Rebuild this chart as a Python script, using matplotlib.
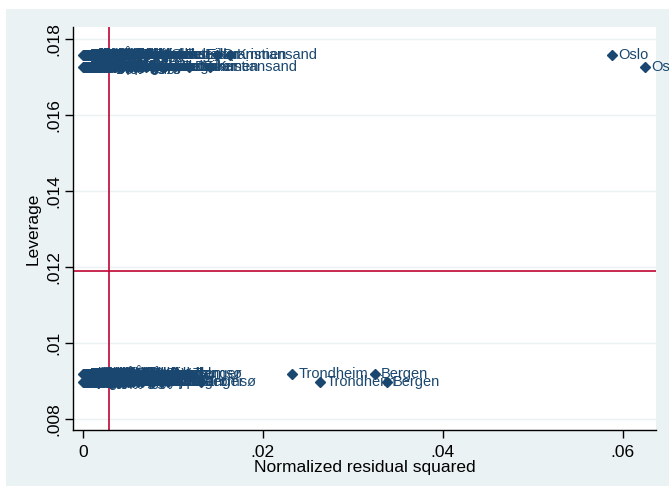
import matplotlib.pyplot as plt
from matplotlib.patches import Rectangle

plt.rcParams['font.family'] = ['Liberation Sans', 'DejaVu Sans']

# Leverage of the four groups (east/west, first/second period)
lev_east_a = 0.017579
lev_east_b = 0.017255
lev_west_a = 0.009184
lev_west_b = 0.008961

# Reference lines: mean leverage and 1/n
mean_lev = 0.01189
mean_r2 = 0.00296

east_cities = ['Oslo', 'Kristiansand', 'Drammen', 'Fredrikstad', 'Sarpsborg', 'Skien',
               'Porsgrunn', 'Larvik', 'Sandefjord', 'Tønsberg', 'Moss', 'Halden', 'Hamar',
               'Lillehammer', 'Gjøvik', 'Kongsberg', 'Arendal', 'Grimstad', 'Mandal', 'Bærum',
               'Asker', 'Lørenskog', 'Ski', 'Ringsaker', 'Elverum', 'Horten', 'Notodden',
               'Kongsvinger', 'Ullensaker', 'Nittedal', 'Lier', 'Eidsvoll', 'Holmestrand',
               'Jevnaker', 'Flekkefjord', 'Farsund', 'Lillesand', 'Risør', 'Kragerø', 'Hønefoss',
               'Nannestad', 'Frogn', 'Vestby', 'Ås', 'Nesodden', 'Oppegård', 'Rælingen',
               'Skedsmo', 'Fet', 'Sørum', 'Gran', 'Østre Toten', 'Vestre Toten', 'Stange',
               'Løten', 'Nedre Eiker', 'Øvre Eiker', 'Modum', 'Røyken', 'Hurum']

# normalized residual squared
east_r2_a = [0.0588, 0.0164, 0.0149, 0.0072, 0.0061, 0.0055, 0.0048, 0.0043, 0.0039, 0.0035,
             0.0032, 0.0029, 0.0026, 0.0024, 0.0021, 0.0019, 0.0017, 0.0015, 0.0014, 0.0012,
             0.0011, 0.0009, 0.0008, 0.0007, 0.0006, 0.0005, 0.0004, 0.0004, 0.0003, 0.0002,
             0.0002, 0.0001, 0.0001, 0.0000, 0.0003, 0.0013, 0.0027, 0.0009, 0.0018, 0.0006,
             0.0052, 0.0046, 0.0041, 0.0037, 0.0034, 0.0031, 0.0028, 0.0025, 0.0023, 0.0020,
             0.0018, 0.0016, 0.0057, 0.0064, 0.0069, 0.0080, 0.0091, 0.0045, 0.0038, 0.0030]
east_r2_b = [0.0625, 0.0142, 0.0118, 0.0066, 0.0058, 0.0050, 0.0044, 0.0040, 0.0036, 0.0033,
             0.0030, 0.0027, 0.0025, 0.0022, 0.0020, 0.0018, 0.0016, 0.0014, 0.0013, 0.0011,
             0.0010, 0.0009, 0.0008, 0.0007, 0.0006, 0.0005, 0.0004, 0.0003, 0.0003, 0.0002,
             0.0002, 0.0001, 0.0001, 0.0000, 0.0004, 0.0012, 0.0024, 0.0008, 0.0016, 0.0005,
             0.0049, 0.0044, 0.0040, 0.0036, 0.0032, 0.0029, 0.0026, 0.0024, 0.0021, 0.0019,
             0.0017, 0.0015, 0.0054, 0.0061, 0.0070, 0.0077, 0.0088, 0.0043, 0.0035, 0.0028]

west_cities = ['Bergen', 'Trondheim', 'Tromsø', 'Stavanger', 'Sandnes', 'Ålesund', 'Haugesund',
               'Bodø', 'Molde', 'Kristiansund', 'Harstad', 'Narvik', 'Alta', 'Steinkjer',
               'Levanger', 'Stjørdal', 'Namsos', 'Rana', 'Førde', 'Flora', 'Voss', 'Stord',
               'Eigersund', 'Hammerfest', 'Vadsø', 'Sortland', 'Vågan', 'Vefsn', 'Orkdal',
               'Verdal', 'Karmøy', 'Askøy', 'Fjell', 'Os', 'Time', 'Klepp', 'Sola', 'Malvik',
               'Melhus', 'Ørsta', 'Sogndal', 'Kvinnherad', 'Lindås', 'Sund', 'Bømlo', 'Hå',
               'Gjesdal', 'Strand', 'Sykkylven', 'Volda', 'Aukra', 'Fauske', 'Lenvik',
               'Balsfjord', 'Sør-Varanger', 'Oppdal', 'Røros', 'Inderøy', 'Overhalla', 'Brønnøy']

west_r2_a = [0.0325, 0.0233, 0.0116, 0.0068, 0.0057, 0.0049, 0.0044, 0.0040, 0.0036, 0.0033,
             0.0030, 0.0027, 0.0025, 0.0023, 0.0021, 0.0019, 0.0017, 0.0015, 0.0013, 0.0012,
             0.0010, 0.0009, 0.0008, 0.0007, 0.0006, 0.0005, 0.0004, 0.0003, 0.0003, 0.0002,
             0.0002, 0.0001, 0.0001, 0.0000, 0.0004, 0.0011, 0.0022, 0.0008, 0.0016, 0.0005,
             0.0053, 0.0047, 0.0041, 0.0037, 0.0034, 0.0031, 0.0028, 0.0025, 0.0022, 0.0020,
             0.0018, 0.0016, 0.0059, 0.0063, 0.0072, 0.0084, 0.0090, 0.0044, 0.0039, 0.0029]
west_r2_b = [0.0338, 0.0264, 0.0131, 0.0078, 0.0062, 0.0053, 0.0047, 0.0042, 0.0038, 0.0034,
             0.0031, 0.0028, 0.0026, 0.0024, 0.0021, 0.0019, 0.0017, 0.0015, 0.0014, 0.0012,
             0.0011, 0.0009, 0.0008, 0.0007, 0.0006, 0.0005, 0.0004, 0.0003, 0.0003, 0.0002,
             0.0002, 0.0001, 0.0001, 0.0000, 0.0004, 0.0013, 0.0023, 0.0009, 0.0017, 0.0006,
             0.0050, 0.0045, 0.0039, 0.0035, 0.0033, 0.0030, 0.0027, 0.0024, 0.0021, 0.0019,
             0.0017, 0.0015, 0.0056, 0.0066, 0.0075, 0.0087, 0.0095, 0.0042, 0.0036, 0.0028]

navy = '#1a476f'
red = '#c10534'
bg = '#eaf2f3'

fig = plt.figure(figsize=(6.69, 4.86), dpi=100, facecolor='white')
fig.patches.append(Rectangle((6 / 669, 0), 1, 1 - 9 / 486, transform=fig.transFigure,
                             facecolor=bg, edgecolor='none', zorder=-10))
ax = fig.add_axes([72.7 / 669, 56 / 486, (656 - 72.7) / 669, (430 - 27) / 486])
ax.set_facecolor('white')

for cities, xs, lev in [(east_cities, east_r2_a, lev_east_a),
                        (east_cities, east_r2_b, lev_east_b),
                        (west_cities, west_r2_a, lev_west_a),
                        (west_cities, west_r2_b, lev_west_b)]:
    ax.plot(xs, [lev] * len(xs), linestyle='none', marker='D', ms=4.6,
            color=navy, zorder=3, clip_on=False)
    for name, x in zip(cities, xs):
        ax.annotate(name, (x, lev), xytext=(4.3, 0), textcoords='offset points',
                    ha='left', va='center', color=navy, fontsize=10.5, zorder=3)

ax.axhline(mean_lev, color=red, lw=1.2, zorder=1.5)
ax.axvline(mean_r2, color=red, lw=1.2, zorder=1.5)

ax.set_xlim(-0.00111, 0.0637)
ax.set_ylim(0.00771, 0.01832)
ax.set_xticks([0, 0.02, 0.04, 0.06])
ax.set_xticklabels(['0', '.02', '.04', '.06'])
ax.set_yticks([0.008, 0.01, 0.012, 0.014, 0.016, 0.018])
ax.set_yticklabels(['.008', '.01', '.012', '.014', '.016', '.018'], rotation=90, va='center')
ax.yaxis.grid(True, color=bg, lw=1.0, zorder=0)
ax.set_axisbelow(True)

for side in ['top', 'right']:
    ax.spines[side].set_visible(False)
for side in ['left', 'bottom']:
    ax.spines[side].set_color('black')
    ax.spines[side].set_linewidth(1.0)
ax.tick_params(axis='both', length=5.5, width=1.0, color='black', labelsize=12.5,
               labelcolor='black', pad=3)
ax.tick_params(axis='x', pad=5)

ax.set_xlabel('Normalized residual squared', fontsize=12.5, labelpad=0)
ax.set_ylabel('Leverage', fontsize=12.5, labelpad=4)

fig.savefig('out.png', dpi=100, facecolor=fig.get_facecolor())
